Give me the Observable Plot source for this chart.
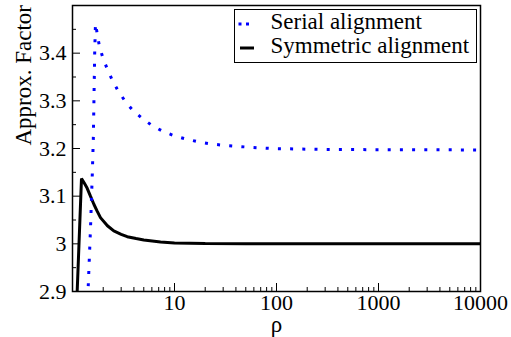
<!DOCTYPE html>
<html>
<head>
<meta charset="utf-8">
<script src="https://cdn.jsdelivr.net/npm/d3@7"></script>
<script src="https://cdn.jsdelivr.net/npm/@observablehq/plot@0.6"></script>
</head>
<body style="margin:0;background:white">
<div id="chart"></div>
<script>
// Serial alignment (blue dotted)
const serialRho = [1.40, 1.42, 1.50, 1.56, 1.60, 1.65, 1.68, 1.83, 1.98, 2.19, 2.45, 2.78, 3.26, 3.90, 4.78, 6.04, 7.68, 9.84, 12.9, 17.1, 22.2, 29.4, 51.2, 88.7, 154, 300, 1000, 10000];
const serialVal = [2.86, 2.90, 3.03, 3.14, 3.22, 3.40, 3.462, 3.416, 3.391, 3.367, 3.344, 3.322, 3.300, 3.280, 3.264, 3.248, 3.236, 3.227, 3.220, 3.214, 3.210, 3.207, 3.203, 3.200, 3.199, 3.198, 3.1975, 3.197];
// Symmetric alignment (black solid)
const symRho = [1.08, 1.225, 1.30, 1.39, 1.50, 1.62, 1.75, 1.88, 2.2, 2.54, 3.0, 3.44, 4.2, 5.0, 7.3, 10, 20, 50, 10000];
const symVal = [2.83, 3.137, 3.128, 3.117, 3.100, 3.083, 3.068, 3.055, 3.038, 3.027, 3.020, 3.015, 3.011, 3.008, 3.004, 3.002, 3.0005, 3.0, 3.0];

const xMajorTicks = [10, 100, 1000, 10000];
const xTickLabels = ["10", "100", "1000", "10000"];
const xMinorTicks = [2,3,4,5,6,7,8,9, 20,30,40,50,60,70,80,90, 200,300,400,500,600,700,800,900, 2000,3000,4000,5000,6000,7000,8000,9000];
const yMajorTicks = [2.9, 3.0, 3.1, 3.2, 3.3, 3.4];
const yTickLabels = ["2.9", "3", "3.1", "3.2", "3.3", "3.4"];
const yMinorTicks = [2.95, 3.05, 3.15, 3.25, 3.35, 3.45];
const seriesNames = ["Serial alignment", "Symmetric alignment"];

const serial = serialRho.map((r, i) => ({rho: r, v: serialVal[i]}));
const sym = symRho.map((r, i) => ({rho: r, v: symVal[i]}));

const W = 511, H = 337;
const mL = 72, mR = 31, mT = 5, mB = 46;
const pw = W - mL - mR, ph = H - mT - mB;
const font = "Times New Roman";

const plot = Plot.plot({
  width: W, height: H,
  marginLeft: mL, marginRight: mR, marginTop: mT, marginBottom: mB,
  style: {fontFamily: "Liberation Serif", fontSize: "22px"},
  x: {type: "log", domain: [1, 10000], axis: null},
  y: {domain: [2.9, 3.5], axis: null},
  marks: [
    Plot.line(sym, {x: "rho", y: "v", stroke: "black", strokeWidth: 3, strokeLinejoin: "miter", strokeLinecap: "butt", clip: true}),
    Plot.line(serial, {x: "rho", y: "v", stroke: "#0000ff", strokeWidth: 3, strokeDasharray: "3,9.2", strokeLinecap: "butt", strokeLinejoin: "miter", clip: true}),
    // ticks (inward)
    Plot.ruleX(xMajorTicks, {x: d => d, insetTop: ph - 8, stroke: "black", strokeWidth: 1}),
    Plot.ruleX(xMinorTicks, {x: d => d, insetTop: ph - 4, stroke: "black", strokeWidth: 1}),
    Plot.ruleY(yMajorTicks, {y: d => d, insetRight: pw - 8, stroke: "black", strokeWidth: 1}),
    Plot.ruleY(yMinorTicks, {y: d => d, insetRight: pw - 4, stroke: "black", strokeWidth: 1}),
    // tick labels
    Plot.text(xMajorTicks, {x: d => d, text: (d, i) => xTickLabels[i], frameAnchor: "bottom", dy: 18, lineAnchor: "bottom", fontSize: 22, fontFamily: font, fill: "black"}),
    Plot.text(yMajorTicks, {y: d => d, text: (d, i) => yTickLabels[i], frameAnchor: "left", dx: -6, textAnchor: "end", lineAnchor: "middle", fontSize: 22, fontFamily: font, fill: "black"}),
    // axis titles
    Plot.text(["ρ"], {frameAnchor: "bottom", dy: 40, lineAnchor: "bottom", fontSize: 23, fontFamily: font, fill: "black"}),
    Plot.text(["Approx. Factor"], {frameAnchor: "left", dx: -49, dy: -3, rotate: -90, lineAnchor: "middle", fontSize: 23, fontFamily: font, fill: "black"}),
    Plot.frame({stroke: "black", strokeWidth: 1.5})
  ]
});

document.getElementById("chart").appendChild(plot);

// Legend box inside the plot area (top-right)
const svg = d3.select(plot);
const lg = svg.append("g").attr("font-size", 23).attr("font-family", font).attr("text-anchor", "start");
lg.append("rect").attr("x", 234.5).attr("y", 9.5).attr("width", 242).attr("height", 53)
  .attr("fill", "white").attr("stroke", "black").attr("stroke-width", 1);
lg.append("line").attr("x1", 238.5).attr("x2", 251).attr("y1", 24).attr("y2", 24)
  .attr("stroke", "#0000ff").attr("stroke-width", 3).attr("stroke-dasharray", "3,4.5");
lg.append("line").attr("x1", 240).attr("x2", 254).attr("y1", 48).attr("y2", 48)
  .attr("stroke", "black").attr("stroke-width", 3);
lg.append("text").attr("x", 270.5).attr("y", 29).attr("fill", "black").text(seriesNames[0]);
lg.append("text").attr("x", 270.5).attr("y", 53).attr("fill", "black").text(seriesNames[1]);
</script>
</body>
</html>
